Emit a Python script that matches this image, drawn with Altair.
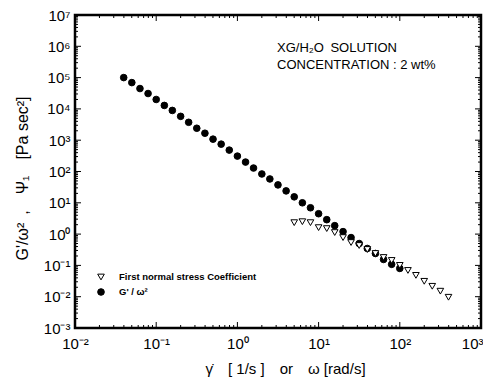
import altair as alt
import pandas as pd

# ---- data ----
rate_g = [0.0398, 0.0501, 0.0631, 0.0794, 0.1, 0.126, 0.158, 0.2, 0.251, 0.316,
          0.398, 0.501, 0.631, 0.794, 1.0, 1.26, 1.58, 2.0, 2.51, 3.16,
          3.98, 5.01, 6.31, 7.94, 10, 12.6, 15.8, 20, 25.1, 31.6,
          39.8, 50.1, 63.1, 79.4, 100]
g_over_w2 = [100000, 69200, 44700, 31000, 20000, 12900, 8930, 5780, 3730, 2410,
             1670, 1080, 748, 482, 310, 200, 129, 83.4, 57.8, 37.3,
             24.0, 15.5, 10.0, 6.94, 4.48, 2.89, 1.86, 1.20, 0.774, 0.499,
             0.347, 0.240, 0.155, 0.108, 0.080]

rate_psi = [5.01, 6.31, 7.94, 10, 12.6, 15.8, 20, 25.1, 31.6, 39.8,
            50.1, 63.1, 79.4, 100, 126, 158, 200, 251, 316, 398]
psi1 = [2.32, 2.49, 2.32, 1.61, 1.50, 1.12, 0.774, 0.537, 0.431, 0.322,
        0.240, 0.179, 0.144, 0.100, 0.069, 0.048, 0.031, 0.0215, 0.015, 0.0096]

series_names = ["First normal stress Coefficient", "G' / ω²"]

x_decades = [0.01, 0.1, 1, 10, 100, 1000]
x_labels = ["10⁻²", "10⁻¹", "10⁰", "10¹", "10²", "10³"]
y_decades = [1e-3, 1e-2, 1e-1, 1, 10, 100, 1e3, 1e4, 1e5, 1e6, 1e7]
y_labels = ["10⁻³", "10⁻²", "10⁻¹", "10⁰", "10¹", "10²", "10³", "10⁴", "10⁵", "10⁶", "10⁷"]

SP = "\u2002"  # wide gap, not collapsed by SVG
annotation = [f"XG/H₂O{SP}SOLUTION", "CONCENTRATION : 2 wt%"]
x_title = f"γ̇{SP}{SP}[ 1/s ]{SP}{SP}or{SP}{SP}ω [rad/s]"
y_title = f"G'/ω²{SP},{SP}{SP}Ψ₁{SP}{SP}[Pa sec²]"

# ---- layout ----
W, H = 406, 313
FONT = "Liberation Sans"

df = pd.concat([
    pd.DataFrame({"x": rate_g, "y": g_over_w2, "series": series_names[1]}),
    pd.DataFrame({"x": rate_psi, "y": psi1, "series": series_names[0]}),
], ignore_index=True)

xscale = alt.Scale(type="log", domain=[0.01, 1000], nice=False)
yscale = alt.Scale(type="log", domain=[1e-3, 1e7], nice=False)

x_label_expr = "[" + ",".join(f"'{s}'" for s in x_labels) + "][round(log(datum.value)/LN10)+2]"
y_label_expr = "[" + ",".join(f"'{s}'" for s in y_labels) + "][round(log(datum.value)/LN10)+3]"

x_axis = alt.Axis(values=x_decades, labelExpr=x_label_expr, title=x_title,
                  ticks=False, domain=False, grid=False, labelFlush=False,
                  labelOverlap=False, labelBound=False,
                  labelAlign={"condition": {"test": "datum.value >= 999", "value": "right"},
                              "value": "center"},
                  labelOffset={"condition": {"test": "datum.value >= 999", "value": 2},
                               "value": 0},
                  labelFont=FONT, labelFontSize=15, labelPadding=8,
                  labelColor="black", titleFont=FONT, titleFontSize=15,
                  titleFontWeight="normal", titleColor="black",
                  titleX=210, titleY=40, titleAlign="center", titleBaseline="middle")
y_axis = alt.Axis(values=y_decades, labelExpr=y_label_expr, title=y_title,
                  ticks=False, domain=False, grid=False, labelFlush=False,
                  labelOverlap=False, labelBound=False,
                  labelFont=FONT, labelFontSize=15, labelPadding=5,
                  labelColor="black", titleFont=FONT, titleFontSize=16,
                  titleFontWeight="normal", titleColor="black",
                  titleX=-53, titleY=163, titleAlign="center", titleBaseline="middle",
                  titleAngle=-90)

points = alt.Chart(df).mark_point(filled=False, strokeWidth=1, size=44, opacity=1).encode(
    x=alt.X("x:Q", scale=xscale, axis=x_axis),
    y=alt.Y("y:Q", scale=yscale, axis=y_axis),
    shape=alt.Shape("series:N", scale=alt.Scale(domain=series_names,
                                                range=["triangle-down", "circle"]),
                    legend=None),
    fill=alt.Fill("series:N", scale=alt.Scale(domain=series_names,
                                              range=["white", "black"]),
                  legend=None),
    stroke=alt.value("black"),
)

# ---- inward tick marks on all four sides ----
x_minor = [m * 10.0 ** e for e in range(-2, 3) for m in range(2, 10)]
y_minor = [m * 10.0 ** e for e in range(-3, 7) for m in range(2, 10)]


def x_ticks(values, length):
    d = pd.DataFrame({"x": values})
    bottom = alt.Chart(d).mark_rule(color="black", strokeWidth=1).encode(
        x=alt.X("x:Q", scale=xscale, axis=x_axis), y=alt.value(H), y2=alt.value(H - length))
    top = alt.Chart(d).mark_rule(color="black", strokeWidth=1).encode(
        x=alt.X("x:Q", scale=xscale, axis=x_axis), y=alt.value(0), y2=alt.value(length))
    return [bottom, top]


def y_ticks(values, length):
    d = pd.DataFrame({"y": values})
    left = alt.Chart(d).mark_rule(color="black", strokeWidth=1).encode(
        y=alt.Y("y:Q", scale=yscale, axis=y_axis), x=alt.value(0), x2=alt.value(length))
    right = alt.Chart(d).mark_rule(color="black", strokeWidth=1).encode(
        y=alt.Y("y:Q", scale=yscale, axis=y_axis), x=alt.value(W), x2=alt.value(W - length))
    return [left, right]


ticks = x_ticks(x_decades, 6) + x_ticks(x_minor, 3) + y_ticks(y_decades, 6) + y_ticks(y_minor, 3)

# ---- hand-made legend (bottom-left, inside the frame) ----
leg_shapes = ["triangle-down", "circle"]
leg_fills = ["white", "black"]
legend_layers = []
for i, name in enumerate(series_names):
    row_y = 262 + 15 * i
    legend_layers.append(
        alt.Chart(pd.DataFrame({"s": [name]})).mark_point(
            shape=leg_shapes[i], fill=leg_fills[i], stroke="black", strokeWidth=1,
            size=44, opacity=1, filled=False).encode(x=alt.value(26), y=alt.value(row_y)))
    legend_layers.append(
        alt.Chart(pd.DataFrame({"s": [name]})).mark_text(
            align="left", baseline="middle", font=FONT, fontSize=9.5, fontWeight="bold",
            color="black").encode(text="s:N", x=alt.value(44), y=alt.value(row_y)))

text = alt.Chart(pd.DataFrame({"t": ["\n".join(annotation)]})).mark_text(
    align="left", baseline="alphabetic", font=FONT, fontSize=13, color="black",
    lineBreak="\n", lineHeight=17).encode(
    text="t:N", x=alt.value(202), y=alt.value(37))

chart = alt.layer(points, *ticks, *legend_layers, text).properties(
    width=W, height=H,
    padding={"left": 67, "top": 7, "right": 2, "bottom": 51},
    autosize=alt.AutoSizeParams(type="none"),
    background="white",
).configure_view(stroke="black", strokeWidth=2.5)

chart.save("out.html", embed_options={"renderer": "svg", "actions": False})
